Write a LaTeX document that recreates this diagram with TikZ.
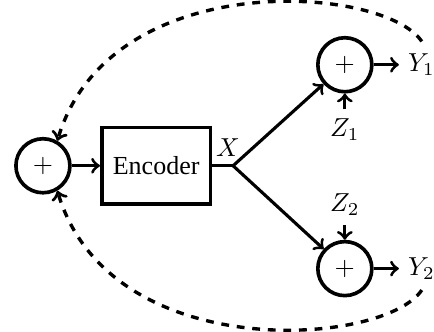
\documentclass[tikz,border=0pt]{standalone}
\usepackage{fontspec}
\setmainfont{Liberation Serif}
\usetikzlibrary{positioning}

\begin{document}
\begin{tikzpicture}[
    sum/.style={draw,circle,line width=1.4pt,minimum size=7.3mm,inner sep=0pt},
    enc/.style={draw,rectangle,line width=1.4pt,minimum width=14.7mm,minimum height=10.3mm},
    sig/.style={line width=1.2pt,->},
    fb/.style={line width=1.3pt,dashed,->}]

  \useasboundingbox (-0.58,-2.24) rectangle (5.285,2.24);

  % blocks
  \node[sum] (sum) at (0,0) {$+$};
  \node[enc] (enc) at (1.53,0) {Encoder};
  \coordinate (split) at (2.57,0);
  \node (x) at (2.5,0.24) {$X$};

  % the two channels
  \node[sum] (sumA) at (4.08,1.365) {$+$};
  \node[sum] (sumB) at (4.08,-1.39) {$+$};
  \node (zA) at (4.08,0.49) {$Z_1$};
  \node (zB) at (4.08,-0.53) {$Z_2$};
  \node[anchor=west] (yA) at (4.81,1.365) {$Y_1$};
  \node[anchor=west] (yB) at (4.81,-1.39) {$Y_2$};

  \draw[sig] (sum) -- (enc);
  \draw[line width=1.2pt] (enc) -- (split);
  \draw[sig] (split) -- (sumA);
  \draw[sig] (split) -- (sumB);
  \draw[sig] (zA) -- (sumA);
  \draw[sig] (zB) -- (sumB);
  \draw[sig] (sumA) -- (yA);
  \draw[sig] (sumB) -- (yB);

  % feedback
  \coordinate (fbA) at (5.12,1.68);
  \coordinate (fbB) at (5.12,-1.68);
  \draw[fb] (fbA) .. controls (4.6,2.45) and (0.9,2.7) .. (sum.60);
  \draw[fb] (fbB) .. controls (4.6,-2.45) and (0.9,-2.7) .. (sum.-60);

\end{tikzpicture}
\end{document}
